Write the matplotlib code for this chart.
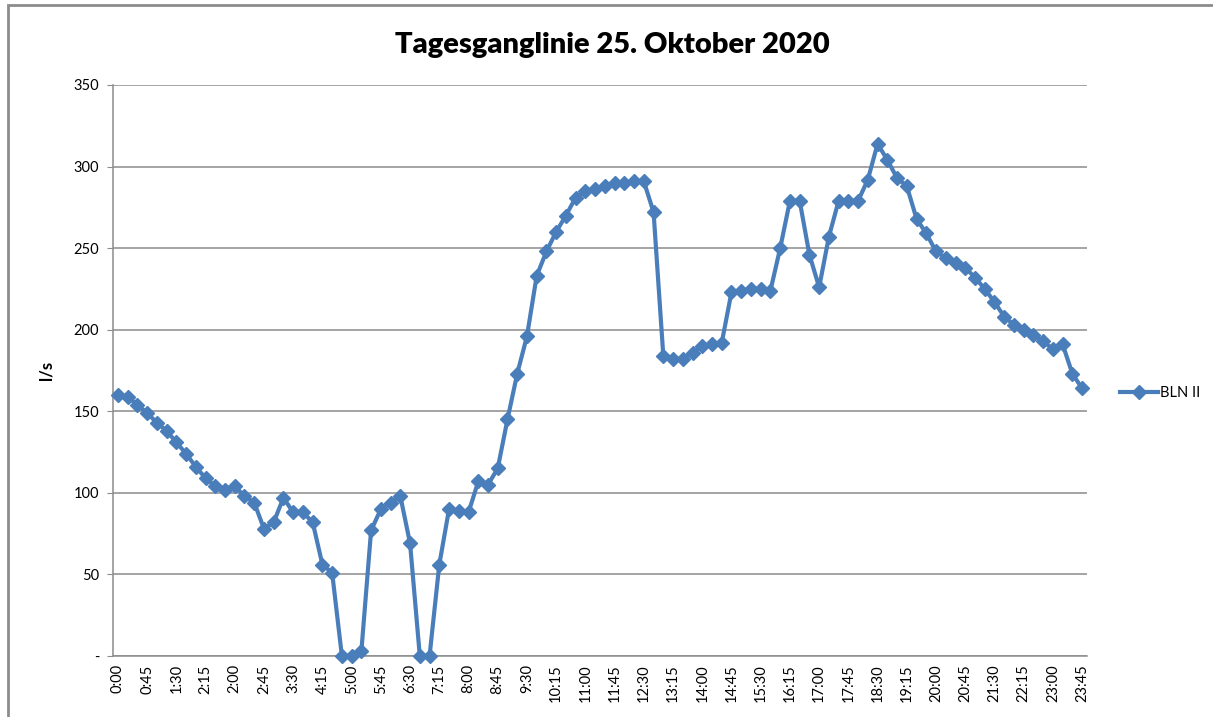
import matplotlib
matplotlib.use("Agg")
import matplotlib.pyplot as plt
from matplotlib.patches import Rectangle

# 25 Oct 2020 (DST change: 2:00-2:45 appears twice) -> 100 quarter-hour values
times = (["%d:%02d" % (h, m) for h in range(0, 3) for m in (0, 15, 30, 45)]
         + ["2:00", "2:15", "2:30", "2:45"]
         + ["%d:%02d" % (h, m) for h in range(3, 24) for m in (0, 15, 30, 45)])

values = [160, 159, 154, 149, 143, 138, 131, 124, 116, 109,
          104, 102, 104, 98, 94, 78, 82, 97, 88, 88,
          82, 56, 51, 0, 0, 3, 77, 90, 94, 98,
          69, 0, 0, 56, 90, 89, 88, 107, 105, 115,
          145, 173, 196, 233, 248, 260, 270, 281, 285, 286,
          288, 290, 290, 291, 291, 272, 184, 182, 182, 186,
          190, 191, 192, 223, 224, 225, 225, 224, 250, 279,
          279, 246, 226, 257, 279, 279, 279, 292, 314, 304,
          293, 288, 268, 259, 248, 244, 241, 238, 232, 225,
          217, 208, 203, 200, 197, 193, 188, 191, 173, 164]

series_name = "BLN II"
title = "Tagesganglinie 25. Oktober 2020"
y_label = "l/s"
y_ticks = [0, 50, 100, 150, 200, 250, 300, 350]
y_ticklabels = ["-", "50", "100", "150", "200", "250", "300", "350"]

plt.rcParams['font.family'] = ['Lato', 'DejaVu Sans']

W, H = 1213, 717
fig = plt.figure(figsize=(W / 100, H / 100), dpi=100)
ax = fig.add_axes([113 / W, 1 - 656 / H, (1087 - 113) / W, (656 - 85) / H])

color = "#4A7EBB"
x = list(range(len(values)))
ax.plot(x, values, color=color, lw=3.0, marker="D", markersize=7.5,
        markeredgecolor=color, label=series_name, clip_on=False, zorder=5)

ax.set_xlim(-0.5, len(values) - 0.5)
ax.set_ylim(0, 350)
ax.set_yticks(y_ticks)
ax.set_yticklabels(y_ticklabels, fontsize=10.5)
tick_idx = list(range(0, len(times), 3))
ax.set_xticks(tick_idx)
ax.set_xticklabels([times[i] for i in tick_idx], rotation=90, fontsize=10.5)

ax.grid(axis="y", color="#8c8c8c", lw=1.1)
ax.set_axisbelow(True)
for s in ("top", "right"):
    ax.spines[s].set_visible(False)
for s in ("left", "bottom"):
    ax.spines[s].set_color("#8c8c8c")
    ax.spines[s].set_linewidth(1.1)
ax.tick_params(axis="y", length=4, color="#8c8c8c", pad=6)
ax.tick_params(axis="x", length=0, pad=6)

ax.set_ylabel(y_label, fontsize=12, fontweight="bold", labelpad=14)
fig.text(612 / W, 1 - 45 / H, title, ha="center", va="center",
         fontsize=21, fontweight="heavy")

leg = ax.legend(loc="center left", bbox_to_anchor=(1113 / W, 1 - 393 / H),
                bbox_transform=fig.transFigure, frameon=False, fontsize=10.5,
                handlelength=2.6, borderpad=0, handletextpad=0.1)

fig.patches.append(Rectangle((8 / W, -0.1), 1.2, 1 - 5 / H + 0.1,
                             transform=fig.transFigure, fill=False,
                             edgecolor="#8c8c8c", lw=2))

fig.savefig("out.png", dpi=100)
